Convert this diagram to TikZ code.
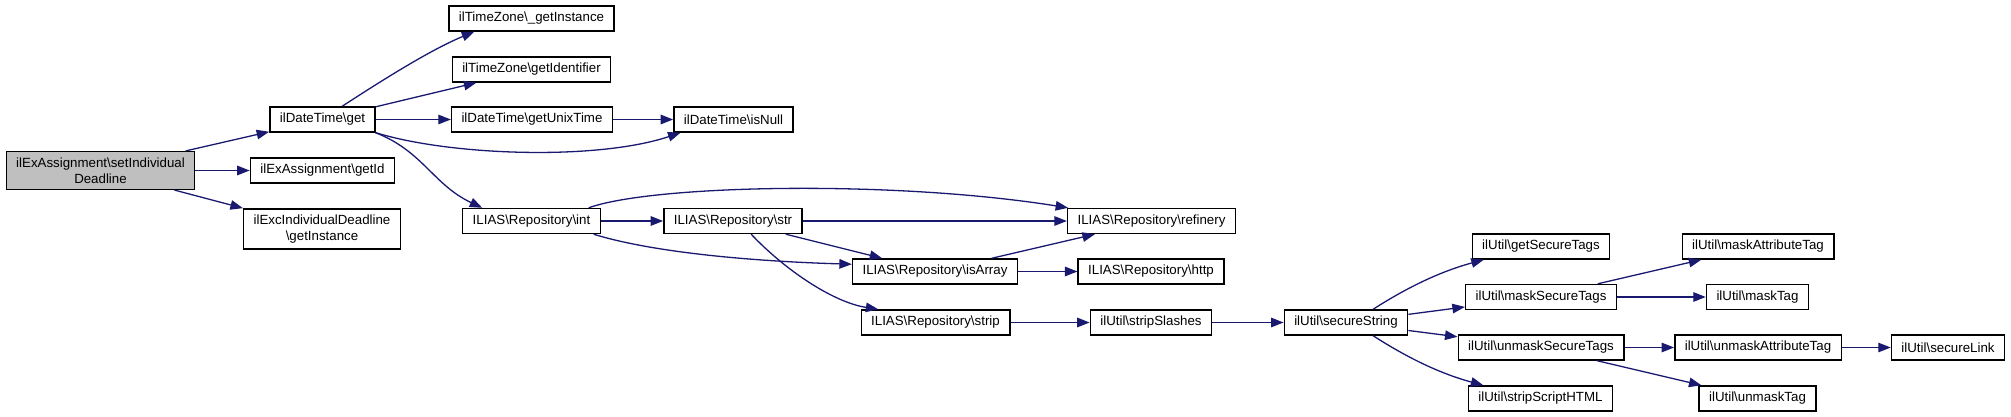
\documentclass[tikz,border=0pt]{standalone}
\usepackage{fontspec}
\setmainfont{Liberation Sans}
\usepackage{tikz}
\usetikzlibrary{arrows.meta}
\definecolor{callblue}{RGB}{25,25,112}
\newcommand{\bs}{\textbackslash}

\begin{document}
\begin{tikzpicture}[x=1pt,y=1pt,
  fn/.style={draw=black,line width=1.4pt,fill=white,minimum height=25pt,inner xsep=10pt,inner ysep=6pt,align=center,font=\fontsize{13.3}{16}\selectfont},
  call/.style={draw=callblue,line width=1.3pt,-{Triangle[length=12.5pt,width=9.5pt,fill=callblue]}}]
\useasboundingbox (0,0) rectangle (2011,-417);

\node[fn,fill=black!25] (main) at (100.5,-170.5) {ilExAssignment\bs setIndividual\\Deadline};
\node[fn] (get) at (322.5,-119.5) {ilDateTime\bs get};
\node[fn] (getId) at (322.5,-170.5) {ilExAssignment\bs getId};
\node[fn] (excInst) at (322,-229) {ilExcIndividualDeadline\\\bs getInstance};
\node[fn] (tzInst) at (531.5,-18.5) {ilTimeZone\bs\_getInstance};
\node[fn] (tzId) at (531.5,-69.5) {ilTimeZone\bs getIdentifier};
\node[fn] (unix) at (532,-119.5) {ilDateTime\bs getUnixTime};
\node[fn] (int) at (531.5,-221) {ILIAS\bs Repository\bs int};
\node[fn] (isNull) at (733.5,-119.5) {ilDateTime\bs isNull};
\node[fn] (str) at (733,-221) {ILIAS\bs Repository\bs str};
\node[fn] (isArray) at (935,-271.5) {ILIAS\bs Repository\bs isArray};
\node[fn] (strip) at (935.5,-322.5) {ILIAS\bs Repository\bs strip};
\node[fn] (refinery) at (1151.5,-221) {ILIAS\bs Repository\bs refinery};
\node[fn] (http) at (1151,-271.5) {ILIAS\bs Repository\bs http};
\node[fn] (slashes) at (1151,-322.5) {ilUtil\bs stripSlashes};
\node[fn] (secStr) at (1346,-322.5) {ilUtil\bs secureString};
\node[fn] (getTags) at (1541,-246.5) {ilUtil\bs getSecureTags};
\node[fn] (maskTags) at (1541,-297) {ilUtil\bs maskSecureTags};
\node[fn] (unmaskTags) at (1541,-347.5) {ilUtil\bs unmaskSecureTags};
\node[fn] (stripHtml) at (1540.5,-398.5) {ilUtil\bs stripScriptHTML};
\node[fn] (maskAttr) at (1758,-246.5) {ilUtil\bs maskAttributeTag};
\node[fn] (maskTag) at (1757.5,-297) {ilUtil\bs maskTag};
\node[fn] (unmaskAttr) at (1758,-347.5) {ilUtil\bs unmaskAttributeTag};
\node[fn] (unmaskTag) at (1757.5,-398.5) {ilUtil\bs unmaskTag};
\node[fn] (secLink) at (1948,-347.5) {ilUtil\bs secureLink};

% calls
\draw[call] (main) -- (get);
\draw[call] (main) -- (getId);
\draw[call] (main) -- (excInst);
\draw[call] (get.34) .. controls +(34,22) and +(-46,-19) .. (tzInst.193);
\draw[call] (get) -- (tzId);
\draw[call] (get) -- (unix);
\draw[call] (get.south east) .. controls +(74,-23) and +(-84,-28) .. (isNull.194);
\draw[call] (get.-14) .. controls +(47,-18) and +(-49,23) .. (int.165);
\draw[call] (unix) -- (isNull);
\draw[call] (int.13) .. controls +(64,23) and +(-176,28) .. (refinery.171);
\draw[call] (int) -- (str);
\draw[call] (int.-12) .. controls +(58,-18) and +(-102,3) .. (isArray.175);
\draw[call] (str) -- (refinery);
\draw[call] (str) -- (isArray);
\draw[call] (str.-36) .. controls +(34,-36) and +(-45,7) .. (strip.167);
\draw[call] (isArray) -- (refinery);
\draw[call] (isArray) -- (http);
\draw[call] (strip) -- (slashes);
\draw[call] (slashes) -- (secStr);
\draw[call] (secStr.26) .. controls +(28,18) and +(-48,-13) .. (getTags.193);
\draw[call] (secStr) -- (maskTags);
\draw[call] (secStr) -- (unmaskTags);
\draw[call] (secStr.-26) .. controls +(28,-18) and +(-48,13) .. (stripHtml.167);
\draw[call] (maskTags) -- (maskAttr);
\draw[call] (maskTags) -- (maskTag);
\draw[call] (unmaskTags) -- (unmaskAttr);
\draw[call] (unmaskTags) -- (unmaskTag);
\draw[call] (unmaskAttr) -- (secLink);
\end{tikzpicture}
\end{document}
